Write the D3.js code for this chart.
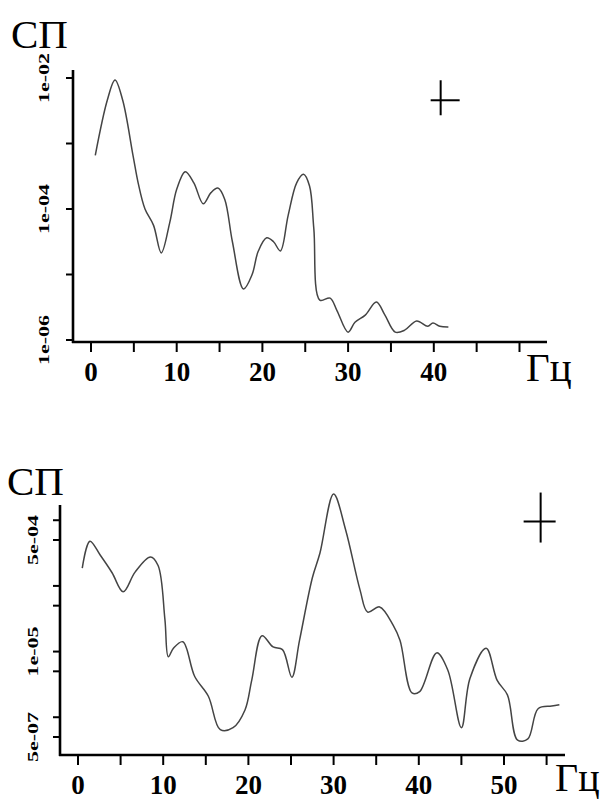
<!DOCTYPE html>
<html>
<head>
<meta charset="utf-8">
<script src="https://cdn.jsdelivr.net/npm/d3@7.9.0/dist/d3.min.js"></script>
<style>
    body { margin: 0; background: #fff; }
    svg { display: block; }
    .curve { fill: none; stroke: #444; stroke-width: 1.5; }
    .axis-line { stroke: #000; stroke-width: 2.6; }
    .tick-line { stroke: #000; stroke-width: 2; }
    .xlab { font-family: 'Liberation Serif', serif; font-weight: bold; font-size: 27px; }
    .ylab { font-family: 'Liberation Serif', serif; font-weight: bold; font-size: 22px; }
    .title { font-family: 'Liberation Serif', serif; font-size: 41px; }
</style>
</head>
<body>
<svg id="chart" width="608" height="801"></svg>
<script>
// top panel: spectrum up to ~42 Hz
const topFreq = [0.5, 1.9, 2.8, 3.7, 4.9, 5.5, 6.3, 7.3, 8.2, 9.2, 10.0, 11.0, 12.0, 13.1, 14.0, 14.8,
    15.6, 16.5, 17.8, 18.8, 19.5, 20.5, 21.3, 22.1, 23.0, 24.0, 24.8, 25.5, 26.0, 26.7, 27.9, 28.7,
    30.0, 30.8, 32.0, 33.3, 34.3, 35.5, 36.6, 38.0, 39.3, 39.9, 40.7, 41.7];
const topLog = [-3.18, -2.34, -2.03, -2.34, -3.18, -3.6, -4.0, -4.25, -4.67, -4.2, -3.7, -3.43, -3.6, -3.92, -3.75, -3.68,
    -3.85, -4.5, -5.22, -5.0, -4.65, -4.44, -4.5, -4.64, -4.1, -3.6, -3.47, -3.65, -4.3, -5.39, -5.36, -5.55,
    -5.88, -5.73, -5.62, -5.42, -5.62, -5.88, -5.85, -5.71, -5.79, -5.74, -5.79, -5.8];
const topYTicks = [1e-2, 1e-3, 1e-4, 1e-5, 1e-6];
const topYLabels = [1e-2, 1e-4, 1e-6];
const topXTicks = [0, 5, 10, 15, 20, 25, 30, 35, 40, 45, 50];
const topXLabels = [0, 10, 20, 30, 40];
const topCross = [40.8, Math.pow(10, -2.34)];

// bottom panel: spectrum up to ~56 Hz
const botFreq = [0.5, 1.4, 2.6, 4.0, 5.3, 6.7, 8.5, 9.4, 10.2, 10.6, 11.2, 12.3, 13.7, 15.3, 16.7, 18.2,
    19.6, 20.4, 21.6, 22.9, 24.0, 25.1, 26.0, 27.5, 28.4, 30.0, 31.4, 33.1, 34.0, 35.4, 37.0, 37.8,
    39.2, 40.1, 42.1, 43.4, 45.0, 46.0, 47.9, 49.2, 50.4, 51.6, 52.8, 54.0, 55.6, 56.5];
const botLog = [-3.73, -3.32, -3.53, -3.8, -4.09, -3.79, -3.56, -3.69, -4.51, -5.08, -4.95, -4.85, -5.38, -5.68, -6.19, -6.16,
    -5.89, -5.43, -4.76, -4.93, -4.97, -5.39, -4.83, -3.88, -3.5, -2.6, -3.14, -4.06, -4.4, -4.32, -4.6, -4.83,
    -5.63, -5.61, -5.02, -5.28, -6.16, -5.41, -4.95, -5.44, -5.66, -6.35, -6.33, -5.87, -5.83, -5.81];
const botYTicks = [1e-3, 5e-4, 1e-4, 5e-5, 1e-5, 5e-6, 1e-6, 5e-7];
const botYLabels = [5e-4, 1e-5, 5e-7];
const botXTicks = [0, 5, 10, 15, 20, 25, 30, 35, 40, 45, 50, 55];
const botXLabels = [0, 10, 20, 30, 40, 50];
const botCross = [54.3, Math.pow(10, -3.02)];

const fmt = v => {
    const [m, e] = v.toExponential(0).split('e');
    const n = Math.abs(+e);
    return m + 'e' + (+e < 0 ? '-' : '+') + String(n).padStart(2, '0');
};

const svg = d3.select('#chart');

function drawPanel(p) {
    const g = svg.append('g');
    const x = d3.scaleLinear().domain([0, 50]).range(p.xRange);
    const y = d3.scaleLog().domain(p.yDomain).range(p.yRange);

    // axes lines
    g.append('line').attr('class', 'axis-line')
        .attr('x1', p.axisX).attr('x2', p.axisX)
        .attr('y1', p.axisTop).attr('y2', p.axisY + 1);
    g.append('line').attr('class', 'axis-line')
        .attr('x1', p.axisX - 1).attr('x2', p.axisRight)
        .attr('y1', p.axisY).attr('y2', p.axisY);

    // x ticks
    g.selectAll('.xt').data(p.xTicks).join('line')
        .attr('class', 'tick-line')
        .attr('x1', d => x(d)).attr('x2', d => x(d))
        .attr('y1', p.axisY).attr('y2', p.axisY + 10);
    g.selectAll('.xl').data(p.xLabels).join('text')
        .attr('class', 'xlab')
        .attr('text-anchor', 'middle')
        .attr('x', d => x(d)).attr('y', p.axisY + 39)
        .text(d => d);

    // y ticks, labels squashed like the original printout
    g.selectAll('.yt').data(p.yTicks).join('line')
        .attr('class', 'tick-line')
        .attr('x1', p.axisX - 7).attr('x2', p.axisX)
        .attr('y1', d => y(d)).attr('y2', d => y(d));
    g.selectAll('.yl').data(p.yLabels).join('text')
        .attr('class', 'ylab')
        .attr('text-anchor', 'middle')
        .attr('transform', d => `translate(${p.labelX}, ${y(d)}) rotate(-90) scale(1, 0.62)`)
        .attr('dy', '0.35em')
        .text(fmt);

    // curve
    const pts = p.freq.map((f, i) => [f, Math.pow(10, p.logs[i])]);
    g.append('path').attr('class', 'curve')
        .attr('d', d3.line().x(d => x(d[0])).y(d => y(d[1])).curve(d3.curveCatmullRom)(pts));

    // cross marker
    const cx = x(p.cross[0]), cy = y(p.cross[1]);
    g.append('line').attr('class', 'tick-line')
        .attr('x1', cx - p.crossW[0]).attr('x2', cx + p.crossW[1]).attr('y1', cy).attr('y2', cy);
    g.append('line').attr('class', 'tick-line')
        .attr('x1', cx).attr('x2', cx).attr('y1', cy - p.crossH[0]).attr('y2', cy + p.crossH[1]);

    // titles
    g.append('text').attr('class', 'title').attr('x', p.titlePos[0]).attr('y', p.titlePos[1]).text('СП');
    g.append('text').attr('class', 'title').attr('x', p.unitPos[0]).attr('y', p.unitPos[1])
        .style('font-size', p.unitSize + 'px').text('Гц');
}

drawPanel({
    freq: topFreq, logs: topLog,
    xRange: [91, 519.5], yDomain: [1e-6, 1e-2], yRange: [340, 78],
    axisX: 73, axisY: 342, axisTop: 70, axisRight: 547, labelX: 44,
    xTicks: topXTicks, xLabels: topXLabels, yTicks: topYTicks, yLabels: topYLabels,
    cross: topCross, crossW: [10, 19], crossH: [20, 15],
    titlePos: [11, 48], unitPos: [526, 381], unitSize: 41
});

drawPanel({
    freq: botFreq, logs: botLog,
    xRange: [78, 504], yDomain: [5e-7, 5e-4], yRange: [737, 540],
    axisX: 60, axisY: 755, axisTop: 505, axisRight: 565, labelX: 33,
    xTicks: botXTicks, xLabels: botXLabels, yTicks: botYTicks, yLabels: botYLabels,
    cross: botCross, crossW: [17, 15], crossH: [29, 21],
    titlePos: [7, 495], unitPos: [555, 791], unitSize: 40
});
</script>
</body>
</html>
